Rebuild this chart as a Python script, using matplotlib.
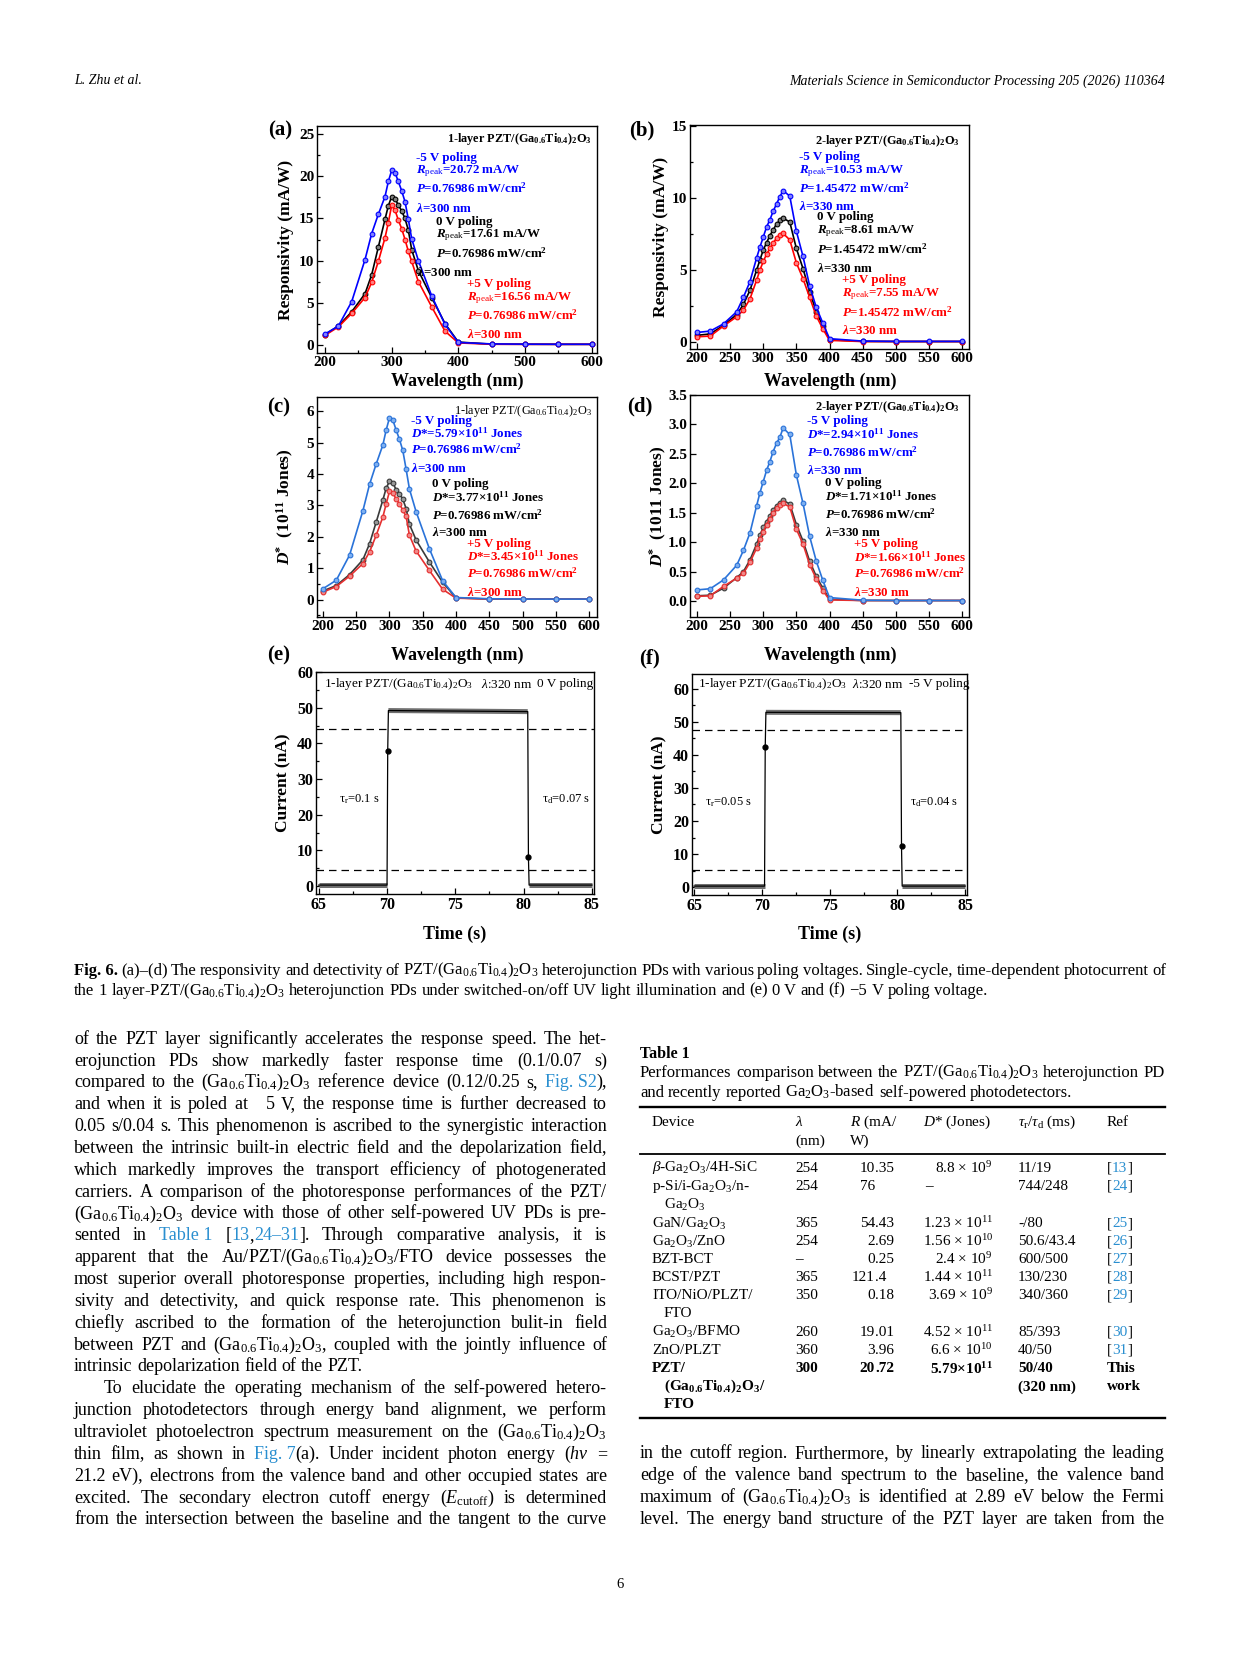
import re
import matplotlib
matplotlib.use('Agg')
import matplotlib.pyplot as plt
from matplotlib.lines import Line2D
from matplotlib.ticker import MultipleLocator, FormatStrFormatter

# ---------------------------------------------------------------- data
wl_1layer = [200, 220, 240, 260, 270, 280, 290, 295, 300, 305, 310, 315, 320,
             325, 330, 340, 360, 380, 400, 450, 500, 550, 600]
wl_2layer = [200, 220, 240, 260, 270, 280, 290, 295, 300, 305, 310, 315, 320,
             325, 330, 340, 350, 360, 370, 380, 390, 400, 450, 500, 550, 600]

resp1_m5 = [1.25, 2.2, 5.1, 10.1, 13.2, 15.5, 17.6, 19.4, 20.72, 20.45, 19.4, 18.3, 17.0,
            14.9, 12.6, 10.0, 5.8, 2.4, 0.25, 0.08, 0.05, 0.04, 0.04]
resp1_0 = [1.2, 2.2, 3.9, 6.05, 8.3, 11.6, 14.9, 16.5, 17.61, 17.35, 16.6, 15.9, 15.0,
           13.6, 11.3, 8.8, 5.6, 2.5, 0.3, 0.05, 0.04, 0.03, 0.03]
resp1_p5 = [1.1, 2.1, 3.7, 5.6, 7.4, 9.9, 12.7, 14.5, 16.56, 16.0, 14.8, 13.8, 12.5,
            11.1, 9.9, 7.5, 4.5, 1.6, 0.2, 0.04, 0.03, 0.03, 0.03]

resp2_m5 = [0.65, 0.75, 1.25, 2.1, 3.1, 4.2, 5.85, 6.6, 7.3, 8.0, 8.5, 9.1, 9.6, 10.1,
            10.53, 10.15, 7.7, 5.95, 3.9, 2.4, 1.3, 0.22, 0.05, 0.03, 0.03, 0.03]
resp2_0 = [0.45, 0.55, 1.15, 1.9, 2.6, 3.6, 5.0, 5.7, 6.4, 6.9, 7.4, 7.8, 8.2, 8.45,
           8.61, 8.35, 6.5, 5.1, 3.5, 2.1, 1.1, 0.15, 0.03, 0.02, 0.02, 0.02]
resp2_p5 = [0.35, 0.4, 1.1, 1.75, 2.2, 3.0, 4.3, 5.0, 5.6, 6.1, 6.5, 6.9, 7.2, 7.45,
            7.55, 7.1, 5.5, 4.4, 3.1, 1.8, 0.9, 0.1, 0.02, 0.02, 0.02, 0.02]

det1_m5 = [0.35, 0.62, 1.42, 2.83, 3.67, 4.32, 4.92, 5.4, 5.79, 5.72, 5.4, 5.1, 4.75,
           4.15, 3.52, 2.8, 1.62, 0.6, 0.07, 0.03, 0.02, 0.02, 0.02]
det1_0 = [0.28, 0.45, 0.8, 1.27, 1.78, 2.47, 3.17, 3.55, 3.77, 3.72, 3.5, 3.37, 3.2,
          2.9, 2.4, 1.9, 1.2, 0.55, 0.06, 0.02, 0.02, 0.02, 0.02]
det1_p5 = [0.24, 0.42, 0.75, 1.15, 1.52, 2.05, 2.63, 3.05, 3.45, 3.4, 3.2, 3.05, 2.85,
           2.65, 2.05, 1.55, 0.93, 0.33, 0.05, 0.02, 0.02, 0.02, 0.02]

det2_m5 = [0.19, 0.21, 0.36, 0.61, 0.86, 1.16, 1.62, 1.84, 2.03, 2.22, 2.37, 2.54, 2.68,
           2.78, 2.94, 2.83, 2.14, 1.66, 1.1, 0.68, 0.35, 0.06, 0.015, 0.01, 0.01, 0.01]
det2_0 = [0.09, 0.1, 0.22, 0.4, 0.5, 0.7, 0.97, 1.12, 1.25, 1.35, 1.45, 1.55, 1.62,
          1.67, 1.71, 1.65, 1.3, 1.02, 0.68, 0.42, 0.22, 0.03, 0.01, 0.01, 0.01, 0.01]
det2_p5 = [0.08, 0.09, 0.25, 0.39, 0.47, 0.66, 0.9, 1.06, 1.18, 1.3, 1.4, 1.5, 1.58,
           1.63, 1.66, 1.6, 1.22, 0.97, 0.62, 0.38, 0.18, 0.02, 0.01, 0.01, 0.01, 0.01]

time_0V = [65.0, 70.0, 70.05, 70.1, 80.3, 80.35, 80.4, 85.0]
curr_0V = [0.3, 0.3, 38.0, 49.2, 48.9, 8.1, 0.3, 0.3]
levels_0V = [44.1, 4.6]
time_m5V = [65.0, 70.2, 70.25, 70.3, 80.25, 80.3, 80.35, 85.0]
curr_m5V = [0.3, 0.3, 42.4, 52.9, 52.8, 12.4, 0.3, 0.3]
levels_m5V = [47.5, 5.2]

tbl_device = [[r'$β$-Ga$_2$O$_3$/4H-SiC'], ['p-Si/i-Ga$_2$O$_3$/n-', 'Ga$_2$O$_3$'],
              ['GaN/Ga$_2$O$_3$'], ['Ga$_2$O$_3$/ZnO'], ['BZT-BCT'], ['BCST/PZT'],
              ['ITO/NiO/PLZT/', 'FTO'], ['Ga$_2$O$_3$/BFMO'], ['ZnO/PLZT'],
              ['PZT/', r'(Ga$_{\mathbf{0.6}}$Ti$_{\mathbf{0.4}}$)$_{\mathbf{2}}$O$_{\mathbf{3}}$/', 'FTO']]
tbl_lambda = ['254', '254', '365', '254', '–', '365', '350', '260', '360', '300']
tbl_R = ['10.35', '76', '54.43', '2.69', '0.25', '121.4', '0.18', '19.01', '3.96', '20.72']
tbl_D = [r'8.8 × 10$^{9}$', '–', r'1.23 × 10$^{11}$', r'1.56 × 10$^{10}$', r'2.4 × 10$^{9}$',
         r'1.44 × 10$^{11}$', r'3.69 × 10$^{9}$', r'4.52 × 10$^{11}$', r'6.6 × 10$^{10}$',
         r'5.79×10$^{\mathbf{11}}$']
tbl_tau = [['11/19'], ['744/248'], ['-/80'], ['50.6/43.4'], ['600/500'], ['130/230'],
           ['340/360'], ['85/393'], ['40/50'], ['50/40', '(320 nm)']]
tbl_ref = [['13'], ['24'], ['25'], ['26'], ['27'], ['28'], ['29'], ['30'], ['31'], ['This', 'work']]

# ---------------------------------------------------------------- setup
W, H = 1241, 1654
plt.rcParams['font.family'] = ['Liberation Serif', 'DejaVu Serif']
plt.rcParams['font.weight'] = 'bold'
plt.rcParams['axes.labelweight'] = 'bold'
plt.rcParams['mathtext.fontset'] = 'custom'
plt.rcParams['mathtext.rm'] = 'Liberation Serif:weight=normal:style=normal'
plt.rcParams['mathtext.it'] = 'Liberation Serif:style=italic:weight=normal'
plt.rcParams['mathtext.bf'] = 'Liberation Serif:weight=bold:style=normal'
try:
    plt.rcParams['mathtext.bfit'] = 'Liberation Serif:style=italic:weight=bold'
    BI = r'\mathbfit'
except KeyError:
    BI = r'\mathbf'

fig = plt.figure(figsize=(W / 100, H / 100), dpi=100)
fig.patch.set_facecolor('white')
renderer = fig.canvas.get_renderer()


def T(x, y, s, size=10, color='black', weight='bold', ha='left', va='center',
      style='normal', **kw):
    return fig.text(x / W, 1 - y / H, s, fontsize=size, color=color, fontweight=weight,
                    ha=ha, va=va, fontstyle=style, **kw)


def add_ax(l, t, r, b):
    return fig.add_axes([l / W, 1 - b / H, (r - l) / W, (b - t) / H])


def style_ax(ax, xmaj, xmin, ymaj, ymin, lsize):
    ax.xaxis.set_major_locator(MultipleLocator(xmaj))
    if xmin:
        ax.xaxis.set_minor_locator(MultipleLocator(xmin))
    ax.yaxis.set_major_locator(MultipleLocator(ymaj))
    if ymin:
        ax.yaxis.set_minor_locator(MultipleLocator(ymin))
    ax.tick_params(which='both', direction='in', labelsize=lsize, width=0.9, pad=2)
    ax.tick_params(which='major', length=4.5)
    ax.tick_params(which='minor', length=2.5)
    for s in ax.spines.values():
        s.set_linewidth(1.0)


def spectra(ax, x, series, colors, faces):
    for y, c, f in zip(series, colors, faces):
        ax.plot(x, y, '-o', color=c, lw=1.2, ms=3.4, mfc=f, mec=c, mew=0.8)


BLUE, RED = '#0000ff', '#ff0000'
hdr1 = r'1-layer PZT/(Ga$_{\mathbf{0.6}}$Ti$_{\mathbf{0.4}}$)$_{\mathbf{2}}$O$_{\mathbf{3}}$'
hdr2 = r'2-layer PZT/(Ga$_{\mathbf{0.6}}$Ti$_{\mathbf{0.4}}$)$_{\mathbf{2}}$O$_{\mathbf{3}}$'
hdr1n = r'1-layer PZT/(Ga$_{0.6}$Ti$_{0.4}$)$_{2}$O$_{3}$'
AS = 9.4  # annotation size


def Rtxt(v):
    return r'$' + BI + r'{R}_{\mathrm{peak}}$=' + v + ' mA/W'


def Ptxt(v):
    return r'$' + BI + r'{P}$=' + v + r' mW/cm$^{\mathbf{2}}$'


def Ltxt(v):
    return r'$' + BI + r'{λ}$=' + v + ' nm'


def Dtxt(v):
    return r'$' + BI + r'{D}$*=' + v + r'×10$^{\mathbf{11}}$ Jones'


def annot_block(x, ys, lines, color, size=AS):
    for y, s in zip(ys, lines):
        T(x, y, s, size=size, color=color)


# ---------------------------------------------------------------- panel (a)
ax = add_ax(317, 126, 597, 353)
spectra(ax, wl_1layer, [resp1_0, resp1_p5, resp1_m5], ['black', RED, BLUE],
        ['#808080', '#ff8080', '#8080ff'])
ax.set_xlim(188, 608)
ax.set_ylim(-1, 26)
style_ax(ax, 100, 50, 5, 2.5, 11)
T(592, 139, hdr1, size=8.8, ha='right')
annot_block(416, [158, 171, 188, 208], ['-5 V poling', Rtxt('20.72'), Ptxt('0.76986'), Ltxt('300')], BLUE)
annot_block(436, [222, 235, 253], ['0 V poling', Rtxt('17.61'), Ptxt('0.76986')], 'black')
T(417, 273, Ltxt('300'), size=AS)
annot_block(467, [284, 298, 315, 334], ['+5 V poling', Rtxt('16.56'), Ptxt('0.76986'), Ltxt('300')], RED)
T(280, 130, '(a)', size=15, ha='center')
T(457, 381, 'Wavelength (nm)', size=13, ha='center')
T(286, 240, 'Responsivity (mA/W)', size=12.5, ha='center', rotation=90)

# ---------------------------------------------------------------- panel (b)
ax = add_ax(690, 125, 969, 349)
spectra(ax, wl_2layer, [resp2_0, resp2_p5, resp2_m5], ['black', RED, BLUE],
        ['#808080', '#ff8080', '#8080ff'])
ax.set_xlim(189.4, 610.6)
ax.set_ylim(-0.5, 15.1)
style_ax(ax, 50, None, 5, 2.5, 11)
T(960, 141, hdr2, size=8.8, ha='right')
annot_block(799, [157, 171, 188, 207], ['-5 V poling', Rtxt('10.53'), Ptxt('1.45472'), Ltxt('330')], BLUE)
annot_block(817, [217, 231, 249, 269], ['0 V poling', Rtxt('8.61'), Ptxt('1.45472'), Ltxt('330')], 'black')
annot_block(842, [280, 294, 312, 331], ['+5 V poling', Rtxt('7.55'), Ptxt('1.45472'), Ltxt('330')], RED)
T(642, 130, '(b)', size=15, ha='center')
T(830, 381, 'Wavelength (nm)', size=13, ha='center')
T(661, 237, 'Responsivity (mA/W)', size=12.5, ha='center', rotation=90)

# ---------------------------------------------------------------- panel (c)
CB, CK, CR = '#2a73d9', '#3a3a3a', '#e53030'
ax = add_ax(317, 397, 597, 617)
spectra(ax, wl_1layer, [det1_0, det1_p5, det1_m5], [CK, CR, CB],
        ['#9a9a9a', '#f08a8a', '#7fb0f0'])
ax.set_xlim(191, 612)
ax.set_ylim(-0.55, 6.45)
style_ax(ax, 50, None, 1, 0.5, 11)
T(592, 411, hdr1n, size=8.8, ha='right', weight='normal')
annot_block(411, [421, 433, 449, 469], ['-5 V poling', Dtxt('5.79'), Ptxt('0.76986'), Ltxt('300')], BLUE)
annot_block(432, [484, 497, 515, 533], ['0 V poling', Dtxt('3.77'), Ptxt('0.76986'), Ltxt('300')], 'black')
annot_block(467, [544, 556, 573, 592], ['+5 V poling', Dtxt('3.45'), Ptxt('0.76986'), Ltxt('300')], RED)
T(279, 407, '(c)', size=15, ha='center')
T(457, 655, 'Wavelength (nm)', size=13, ha='center')
T(285, 507, r'$' + BI + r'{D}^{\mathbf{*}}$  (10$^{\mathbf{11}}$ Jones)', size=12.5, ha='center', rotation=90)

# ---------------------------------------------------------------- panel (d)
ax = add_ax(690, 395, 969, 617)
spectra(ax, wl_2layer, [det2_0, det2_p5, det2_m5], [CK, CR, CB],
        ['#9a9a9a', '#f08a8a', '#7fb0f0'])
ax.set_xlim(189.4, 610.6)
ax.set_ylim(-0.27, 3.5)
style_ax(ax, 50, None, 0.5, None, 11)
ax.yaxis.set_major_formatter(FormatStrFormatter('%.1f'))
T(960, 407, hdr2, size=8.8, ha='right')
annot_block(807, [421, 434, 452, 470], ['-5 V poling', Dtxt('2.94'), Ptxt('0.76986'), Ltxt('330')], BLUE)
annot_block(825, [483, 496, 514, 532], ['0 V poling', Dtxt('1.71'), Ptxt('0.76986'), Ltxt('330')], 'black')
annot_block(854, [544, 557, 573, 592], ['+5 V poling', Dtxt('1.66'), Ptxt('0.76986'), Ltxt('330')], RED)
T(640, 406, '(d)', size=15, ha='center')
T(830, 655, 'Wavelength (nm)', size=13, ha='center')
T(658, 506, r'$' + BI + r'{D}^{\mathbf{*}}$  (1011 Jones)', size=12.5, ha='center', rotation=90)


# ---------------------------------------------------------------- panels (e), (f)
def transient(ax, t, c, levels):
    for a, b in [(0, 2), (3, 5), (6, 8)]:
        ax.plot(t[a:b], c[a:b], color='#707070', lw=3.6, solid_capstyle='butt', zorder=2)
    ax.plot(t, c, color='black', lw=0.9, zorder=3)
    ax.plot([t[2], t[5]], [c[2], c[5]], 'o', color='black', ms=3.5, zorder=4)
    for lv in levels:
        ax.axhline(lv, color='black', lw=0.9, ls=(0, (6, 4)), zorder=1)


ax = add_ax(316, 672, 594, 894)
transient(ax, time_0V, curr_0V, levels_0V)
ax.set_xlim(64.8, 85.15)
ax.set_ylim(-2.2, 60)
style_ax(ax, 5, 2.5, 10, 5, 11.5)
T(324, 684, hdr1n, size=9.5, weight='normal')
T(481, 684, r'$\mathit{λ}$:320 nm', size=9.5, weight='normal')
T(537, 684, '0 V poling', size=9.5, weight='normal')
T(339, 799, r'τ$_\mathrm{r}$=0.1 s', size=9, weight='normal')
T(542, 799, r'τ$_\mathrm{d}$=0.07 s', size=9, weight='normal')
T(279, 655, '(e)', size=15, ha='center')
T(455, 934, 'Time (s)', size=13, ha='center')
T(283, 783, 'Current (nA)', size=12.5, ha='center', rotation=90)

ax = add_ax(692, 674, 967, 895)
transient(ax, time_m5V, curr_m5V, levels_m5V)
ax.set_xlim(64.85, 85.13)
ax.set_ylim(-2.4, 64.5)
style_ax(ax, 5, 2.5, 10, 5, 11.5)
T(698, 684, hdr1n, size=9.5, weight='normal')
T(852, 684, r'$\mathit{λ}$:320 nm', size=9.5, weight='normal')
T(909, 684, '-5 V poling', size=9.5, weight='normal')
T(705, 802, r'τ$_\mathrm{r}$=0.05 s', size=9, weight='normal')
T(910, 802, r'τ$_\mathrm{d}$=0.04 s', size=9, weight='normal')
T(650, 658, '(f)', size=15, ha='center')
T(830, 934, 'Time (s)', size=13, ha='center')
T(659, 785, 'Current (nA)', size=12.5, ha='center', rotation=90)

# ---------------------------------------------------------------- text machinery
LINK = '#2a8fd0'
_cache = {}


def measure(s, size, weight='normal', style='normal'):
    key = (s, size, weight, style)
    if key not in _cache:
        t = fig.text(0, 0, s, fontsize=size, fontweight=weight, fontstyle=style)
        _cache[key] = t.get_window_extent(renderer).width
        t.remove()
    return _cache[key]


def parse_word(w):
    segs = []
    for p in re.split(r'(«[^»]*»|§[^§]*§)', w):
        if not p:
            continue
        if p.startswith('«'):
            segs.append((p[1:-1].replace('~', ' '), LINK, 'normal'))
        elif p.startswith('§'):
            segs.append((p[1:-1].replace('~', ' '), 'black', 'bold'))
        else:
            segs.append((p.replace('~', ' '), 'black', 'normal'))
    return segs


def line_words(line, size, style):
    words = [parse_word(w) for w in line.split(' ') if w]
    widths = [[measure(s, size, wt, style) for s, c, wt in segs] for segs in words]
    return words, widths


def fit_block(lines, base, style):
    sp = measure('a a', base) - measure('aa', base)
    worst = 1.0
    for ln, x0, x1, just in lines:
        words, widths = line_words(ln, base, style)
        need = sum(sum(w) for w in widths) + (len(words) - 1) * sp * 0.8
        worst = max(worst, need / (x1 - x0))
    return base / worst


def draw_line(line, x0, x1, yc, size, justify=True, style='normal'):
    words, widths = line_words(line, size, style)
    tot = sum(sum(w) for w in widths)
    if justify and len(words) > 1:
        gap = (x1 - x0 - tot) / (len(words) - 1)
    else:
        gap = measure('a a', size) - measure('aa', size)
    x = x0
    yb = yc + 0.32 * size
    for segs, ws in zip(words, widths):
        for (s, c, wt), w in zip(segs, ws):
            fig.text(x / W, 1 - yb / H, s, fontsize=size, color=c, fontweight=wt,
                     fontstyle=style, ha='left', va='baseline')
            x += w
        x += gap


def draw_block(lines, ys, base, style='normal'):
    size = fit_block(lines, base, style)
    for (ln, x0, x1, just), y in zip(lines, ys):
        draw_line(ln, x0, x1, y, size, just, style)


GA = '(Ga$_{0.6}$Ti$_{0.4}$)$_2$O$_3$'

# ---------------------------------------------------------------- page header
T(74, 81, 'L. Zhu et al.', size=10, weight='normal', style='italic')
T(1165, 81, 'Materials Science in Semiconductor Processing 205 (2026) 110364', size=10,
  weight='normal', style='italic', ha='right')
T(620, 1584, '6', size=10.5, weight='normal', ha='center')

# ---------------------------------------------------------------- figure caption
cap = [
    ('§Fig.~6.§ (a)–(d) The responsivity and detectivity of PZT/' + GA + ' heterojunction PDs with '
     'various poling voltages. Single-cycle, time-dependent photocurrent of', 74, 1166, True),
    ('the 1 layer-PZT/' + GA + ' heterojunction PDs under switched-on/off UV light illumination '
     'and (e) 0 V and (f) −5 V poling voltage.', 74, 1166, False),
]
draw_block(cap, [971, 991], 12.2)

# ---------------------------------------------------------------- left column
L0, L1 = 74, 607
left = [
    'of the PZT layer significantly accelerates the response speed. The het-',
    'erojunction PDs show markedly faster response time (0.1/0.07 s)',
    'compared to the ' + GA + ' reference device (0.12/0.25 s, «Fig.~S2»),',
    'and when it is poled at~~~~5 V, the response time is further decreased to',
    '0.05 s/0.04 s. This phenomenon is ascribed to the synergistic interaction',
    'between the intrinsic built-in electric field and the depolarization field,',
    'which markedly improves the transport efficiency of photogenerated',
    'carriers. A comparison of the photoresponse performances of the PZT/',
    GA + ' device with those of other self-powered UV PDs is pre-',
    'sented in «Table~1» [«13»,«24–31»]. Through comparative analysis, it is',
    'apparent that the Au/PZT/' + GA + '/FTO device possesses the',
    'most superior overall photoresponse properties, including high respon-',
    'sivity and detectivity, and quick response rate. This phenomenon is',
    'chiefly ascribed to the formation of the heterojunction bulit-in field',
    'between PZT and ' + GA + ', coupled with the jointly influence of',
    'intrinsic depolarization field of the PZT.',
    'To elucidate the operating mechanism of the self-powered hetero-',
    'junction photodetectors through energy band alignment, we perform',
    'ultraviolet photoelectron spectrum measurement on the ' + GA,
    'thin film, as shown in «Fig.~7»(a). Under incident photon energy ($hν$ =',
    '21.2 eV), electrons from the valence band and other occupied states are',
    'excited. The secondary electron cutoff energy ($E_\\mathrm{cutoff}$) is determined',
    'from the intersection between the baseline and the tangent to the curve',
]
left_spec = []
for i, ln in enumerate(left):
    x0 = L0 + 30 if i == 16 else L0
    left_spec.append((ln, x0, L1, i != 15))
draw_block(left_spec, [1039.5 + 21.85 * i for i in range(len(left))], 13)

# ---------------------------------------------------------------- right column text
R0, R1 = 640, 1165
right = [
    'in the cutoff region. Furthermore, by linearly extrapolating the leading',
    'edge of the valence band spectrum to the baseline, the valence band',
    'maximum of ' + GA + ' is identified at 2.89 eV below the Fermi',
    'level. The energy band structure of the PZT layer are taken from the',
]
draw_block([(ln, R0, R1, True) for ln in right], [1454 + 21.9 * i for i in range(4)], 13)

# ---------------------------------------------------------------- table
T(R0, 1054, 'Table 1', size=11.5, weight='bold')
tcap = [
    ('Performances comparison between the PZT/' + GA + ' heterojunction PD', R0, R1, True),
    ('and recently reported Ga$_2$O$_3$-based self-powered photodetectors.', R0, R1, False),
]
draw_block(tcap, [1073, 1093], 12)

for y, lw in [(1107, 1.7), (1154, 1.3), (1418, 1.7)]:
    fig.add_artist(Line2D([R0 / W, R1 / W], [1 - y / H, 1 - y / H], color='black', lw=lw))

TS = 11
X_DEV, X_DEV2, X_LAM, X_R, X_RDEC, X_D, X_TAU, X_REF = 652, 664, 795, 850, 875, 993, 1018, 1107
T(X_DEV, 1122, 'Device', size=TS, weight='normal')
T(X_LAM, 1122, r'$λ$', size=TS, weight='normal')
T(X_LAM, 1141, '(nm)', size=TS, weight='normal')
T(X_R, 1122, r'$R$ (mA/', size=TS, weight='normal')
T(X_R, 1141, 'W)', size=TS, weight='normal')
T(923, 1122, r'$D$* (Jones)', size=TS, weight='normal')
T(X_TAU, 1122, r'$τ_\mathrm{r}$/$τ_\mathrm{d}$ (ms)', size=TS, weight='normal')
T(X_REF, 1122, 'Ref', size=TS, weight='normal')

row_y = [1168, 1186.5, 1223.5, 1241.5, 1259.2, 1277.2, 1295.5, 1332.2, 1350.2, 1368.6]
SUB = 18.2
for i, y in enumerate(row_y):
    wt = 'bold' if i == len(row_y) - 1 else 'normal'
    for k, s in enumerate(tbl_device[i]):
        T(X_DEV if k == 0 else X_DEV2, y + k * SUB, s, size=TS, weight=wt)
    T(X_LAM, y, tbl_lambda[i], size=TS, weight=wt)
    rv = tbl_R[i]
    if '.' in rv:
        ip, fp = rv.split('.')
        T(X_RDEC, y, ip, size=TS, weight=wt, ha='right')
        T(X_RDEC, y, '.' + fp, size=TS, weight=wt, ha='left')
    else:
        T(X_RDEC, y, rv, size=TS, weight=wt, ha='right')
    if tbl_D[i] == '–':
        T(925, y, tbl_D[i], size=TS, weight=wt)
    else:
        T(X_D, y, tbl_D[i], size=TS, weight=wt, ha='right')
    for k, s in enumerate(tbl_tau[i]):
        T(X_TAU, y + k * SUB, s, size=TS, weight=wt)
    refs = tbl_ref[i]
    if len(refs) == 1:
        wb = measure('[', TS)
        wn = measure(refs[0], TS)
        T(X_REF, y, '[', size=TS, weight='normal')
        T(X_REF + wb, y, refs[0], size=TS, weight='normal', color=LINK)
        T(X_REF + wb + wn, y, ']', size=TS, weight='normal')
    else:
        for k, s in enumerate(refs):
            T(X_REF, y + k * SUB, s, size=TS, weight='bold')

fig.savefig('out.png', dpi=100, facecolor='white')
